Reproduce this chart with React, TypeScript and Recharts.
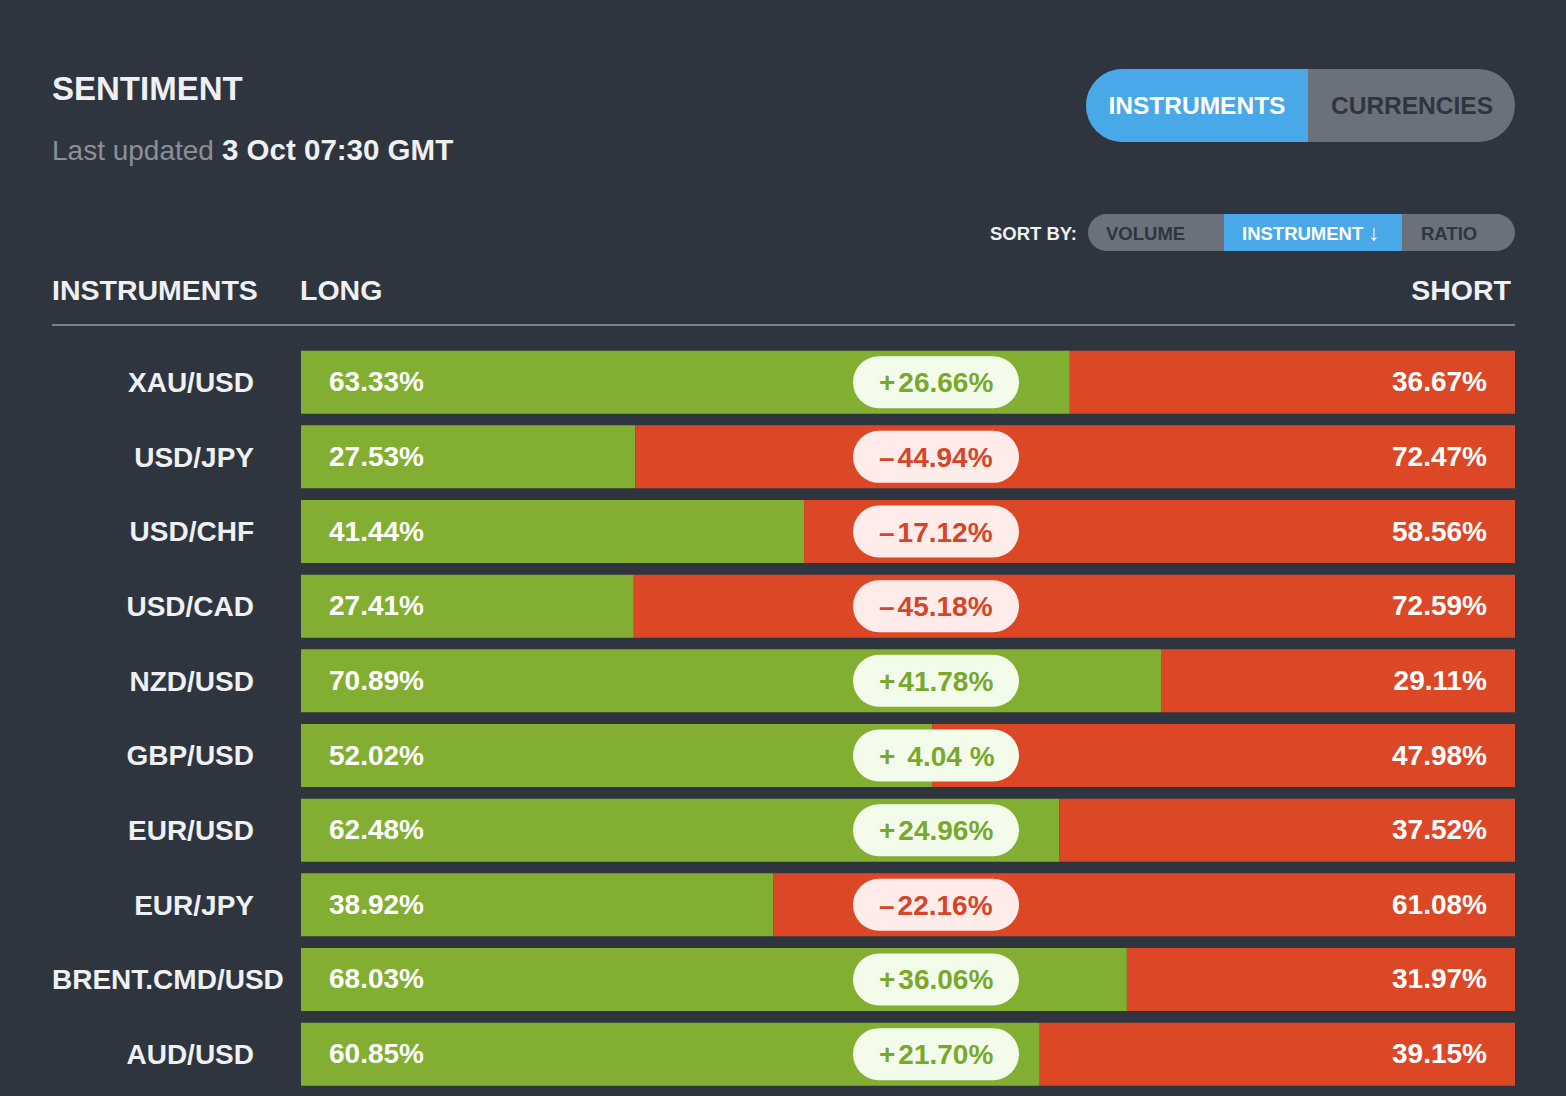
import { Bar, BarChart, LabelList, XAxis, YAxis } from "recharts";

const instruments = [
	"XAU/USD",
	"USD/JPY",
	"USD/CHF",
	"USD/CAD",
	"NZD/USD",
	"GBP/USD",
	"EUR/USD",
	"EUR/JPY",
	"BRENT.CMD/USD",
	"AUD/USD",
];
const longPct = [63.33, 27.53, 41.44, 27.41, 70.89, 52.02, 62.48, 38.92, 68.03, 60.85];
const shortPct = [36.67, 72.47, 58.56, 72.59, 29.11, 47.98, 37.52, 61.08, 31.97, 39.15];
const netPct = [26.66, -44.94, -17.12, -45.18, 41.78, 4.04, 24.96, -22.16, 36.06, 21.7];

const data = instruments.map((name, i) => ({
	name,
	long: longPct[i],
	short: shortPct[i],
	net: netPct[i],
}));

const W = 1566;
const H = 1096;
const FONT = '"Liberation Sans", Arial, Helvetica, sans-serif';
const BG = "#2f353e";
const TEXT = "#eef0f2";
const GREEN = "#82ae31";
const RED = "#dc4826";
const BLUE = "#48a8e8";
const GREY = "#6b717a";

const PLOT_LEFT = 301;
const PLOT_RIGHT = 1515;
const PLOT_W = PLOT_RIGHT - PLOT_LEFT;

const box = (p: any) => {
	const vb = p.viewBox || p;
	return { x: vb.x, y: vb.y, width: vb.width, height: vb.height };
};

const RowTick = (props: any) => {
	const { y, payload } = props;
	const label = String(payload.value);
	// long names overflow the column to the right, like the original
	const long = label.length > 10;
	return (
		<text
			x={long ? 52 : 254}
			y={y}
			dy={10}
			textAnchor={long ? "start" : "end"}
			fill={TEXT}
			fontFamily={FONT}
			fontWeight="bold"
			fontSize={28}
		>
			{label}
		</text>
	);
};

const LongLabel = (props: any) => {
	const b = box(props);
	return (
		<text
			x={b.x + 28}
			y={b.y + b.height / 2}
			dy={9}
			fill="#ffffff"
			fontFamily={FONT}
			fontWeight="bold"
			fontSize={28}
		>
			{Number(props.value).toFixed(2)}%
		</text>
	);
};

const ShortLabel = (props: any) => {
	const b = box(props);
	return (
		<text
			x={b.x + b.width - 28}
			y={b.y + b.height / 2}
			dy={9}
			textAnchor="end"
			fill="#ffffff"
			fontFamily={FONT}
			fontWeight="bold"
			fontSize={28}
		>
			{Number(props.value).toFixed(2)}%
		</text>
	);
};

const NetPill = (props: any) => {
	const b = box(props);
	const v = Number(props.value);
	const pos = v >= 0;
	const cy = b.y + b.height / 2;
	const left = PLOT_LEFT + PLOT_W * 0.4547;
	const pw = 166;
	const ph = 52;
	const num = Math.abs(v).toFixed(2);
	const small = Math.abs(v) < 10;
	return (
		<g>
			<rect
				x={left}
				y={cy - ph / 2}
				width={pw}
				height={ph}
				rx={ph / 2}
				fill={pos ? "#f3fbea" : "#fdecea"}
			/>
			<text
				x={left + 26}
				y={cy}
				dy={10}
				fill={pos ? "#79a82b" : "#d5452a"}
				fontFamily={FONT}
				fontWeight="bold"
				fontSize={28}
			>
				<tspan>{pos ? "+" : "–"}</tspan>
				<tspan dx={small ? 12 : 3}>{num}</tspan>
				<tspan dx={small ? 8 : 0}>%</tspan>
			</text>
		</g>
	);
};

const Header = () => (
	<svg
		width={W}
		height={340}
		style={{ position: "absolute", left: 0, top: 0 }}
		fontFamily={FONT}
		fontWeight="bold"
	>
		<text x={52} y={100} fontSize={33} fill={TEXT}>
			SENTIMENT
		</text>
		<text x={52} y={160} fontSize={28} fill="#8b9097" fontWeight="normal">
			Last updated
		</text>
		<text x={222} y={160} fontSize={29.5} fill={TEXT}>
			3 Oct 07:30 GMT
		</text>

		<rect x={1086} y={69} width={429} height={73} rx={36.5} fill={GREY} />
		<path d="M1308 69 H1122.5 A36.5 36.5 0 0 0 1122.5 142 H1308 Z" fill={BLUE} />
		<text x={1197} y={114} fontSize={24.5} fill="#ffffff" textAnchor="middle">
			INSTRUMENTS
		</text>
		<text x={1412} y={114} fontSize={24.5} fill="#2f353e" textAnchor="middle">
			CURRENCIES
		</text>

		<text x={1077} y={240} fontSize={18.5} fill={TEXT} textAnchor="end">
			SORT BY:
		</text>
		<rect x={1088} y={214} width={427} height={37} rx={18.5} fill={GREY} />
		<rect x={1224} y={214} width={178} height={37} fill={BLUE} />
		<text x={1106} y={240} fontSize={18.5} fill="#2f353e">
			VOLUME
		</text>
		<text x={1242} y={240} fontSize={18.5} fill="#ffffff">
			INSTRUMENT
			<tspan dx={5} fontSize={22} fontWeight="normal">
				↓
			</tspan>
		</text>
		<text x={1421} y={240} fontSize={18.5} fill="#2f353e">
			RATIO
		</text>

		<text x={52} y={300} fontSize={28.5} fill={TEXT}>
			INSTRUMENTS
		</text>
		<text x={300} y={300} fontSize={28.5} fill={TEXT}>
			LONG
		</text>
		<text x={1511} y={300} fontSize={28.5} fill={TEXT} textAnchor="end">
			SHORT
		</text>
		<rect x={52} y={324} width={1463} height={2} fill="#7b8088" />
	</svg>
);

export default function App() {
	return (
		<div
			style={{
				position: "absolute",
				left: 0,
				top: 0,
				width: W,
				height: H,
				background: BG,
				overflow: "hidden",
			}}
		>
			<Header />
			<div style={{ position: "absolute", left: 0, top: 0 }}>
				<BarChart
					width={W}
					height={H}
					data={data}
					layout="vertical"
					margin={{ top: 344.7, right: W - PLOT_RIGHT, bottom: 4.7, left: 52 }}
					barSize={63}
				>
					<XAxis type="number" domain={[0, 100]} hide />
					<YAxis
						type="category"
						dataKey="name"
						width={PLOT_LEFT - 52}
						axisLine={false}
						tickLine={false}
						tickSize={0}
						tick={<RowTick />}
						interval={0}
					/>
					<Bar dataKey="long" stackId="s" fill={GREEN} isAnimationActive={false}>
						<LabelList dataKey="long" content={<LongLabel />} />
					</Bar>
					<Bar dataKey="short" stackId="s" fill={RED} isAnimationActive={false}>
						<LabelList dataKey="short" content={<ShortLabel />} />
						<LabelList dataKey="net" content={<NetPill />} />
					</Bar>
				</BarChart>
			</div>
		</div>
	);
}
